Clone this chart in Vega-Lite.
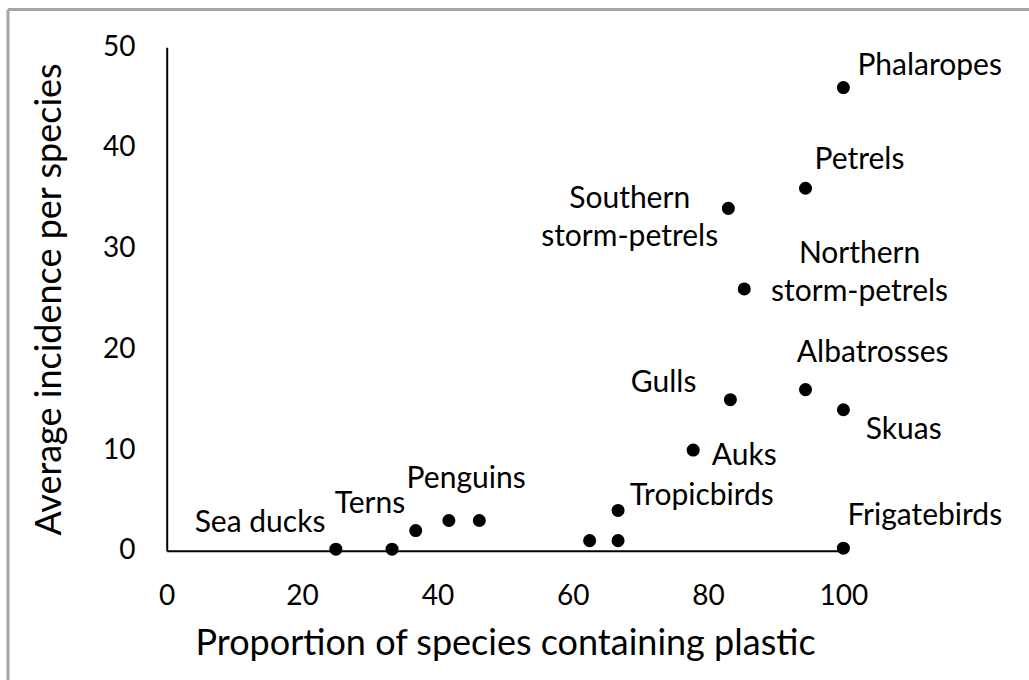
{
  "$schema": "https://vega.github.io/schema/vega-lite/v6.json",
  "autosize": "none",
  "width": 1021.5,
  "height": 671,
  "padding": {"left": 7.5, "top": 9, "right": 0, "bottom": 0},
  "background": "white",
  "config": {
    "view": {"stroke": null},
    "font": "Lato",
    "text": {"font": "Lato", "fontSize": 30, "color": "black"}
  },
  "data": {
    "values": [
      {"x": 25, "y": 0.15, "label": "Sea ducks"},
      {"x": 33.3, "y": 0.15, "label": ""},
      {"x": 36.8, "y": 2, "label": "Terns"},
      {"x": 41.7, "y": 3, "label": "Penguins"},
      {"x": 46.2, "y": 3, "label": ""},
      {"x": 62.5, "y": 1, "label": ""},
      {"x": 66.7, "y": 1, "label": ""},
      {"x": 66.7, "y": 4, "label": "Tropicbirds"},
      {"x": 77.8, "y": 10, "label": "Auks"},
      {"x": 83.3, "y": 15, "label": "Gulls"},
      {"x": 94.4, "y": 16, "label": "Albatrosses"},
      {"x": 100, "y": 14, "label": "Skuas"},
      {"x": 100, "y": 0.25, "label": "Frigatebirds"},
      {"x": 100, "y": 46, "label": "Phalaropes"},
      {"x": 94.4, "y": 36, "label": "Petrels"},
      {"x": 83, "y": 34, "label": "Southern\nstorm-petrels"},
      {"x": 85.35, "y": 26, "label": "Northern\nstorm-petrels"}
    ]
  },
  "layer": [
    {
      "encoding": {
        "x": {
          "field": "x", "type": "quantitative",
          "scale": {"domain": [0, 100], "range": [159.2, 835.9], "nice": false, "zero": false},
          "axis": {
            "orient": "bottom", "offset": -129.3,
            "values": [0, 20, 40, 60, 80, 100],
            "title": "Proportion of species containing plastic",
            "grid": false, "ticks": false, "tickSize": 0,
            "domainColor": "black", "domainWidth": 2,
            "labelFont": "Lato", "labelFontSize": 28, "labelColor": "black",
            "labelPadding": 32, "labelFlush": false, "labelOverlap": false,
            "titleFont": "Lato", "titleFontSize": 36, "titleFontWeight": "normal",
            "titleColor": "black", "titlePadding": 16
          }
        },
        "y": {
          "field": "y", "type": "quantitative",
          "scale": {"domain": [0, 50], "range": [541.7, 38.3], "nice": false, "zero": false},
          "axis": {
            "orient": "left", "offset": -159.2,
            "values": [0, 10, 20, 30, 40, 50],
            "title": "Average incidence per species",
            "grid": false, "ticks": false, "tickSize": 0,
            "domainColor": "black", "domainWidth": 2,
            "labelFont": "Lato", "labelFontSize": 28, "labelColor": "black",
            "labelPadding": 31.7, "labelFlush": false, "labelOverlap": false,
            "titleFont": "Lato", "titleFontSize": 36, "titleFontWeight": "normal",
            "titleColor": "black", "titlePadding": 34
          }
        }
      },
      "layer": [
        {
          "mark": {"type": "point", "shape": "circle", "filled": true, "color": "black", "opacity": 1, "size": 170, "clip": false}
        },
        {
          "transform": [{"filter": "datum.label === 'Phalaropes'"}],
          "mark": {"type": "text", "align": "left", "baseline": "alphabetic", "dx": 14, "dy": -12.7},
          "encoding": {"text": {"field": "label"}}
        },
        {
          "transform": [{"filter": "datum.label === 'Petrels'"}],
          "mark": {"type": "text", "align": "left", "baseline": "alphabetic", "dx": 9, "dy": -19},
          "encoding": {"text": {"field": "label"}}
        },
        {
          "transform": [{"filter": "datum.label === 'Albatrosses'"}],
          "mark": {"type": "text", "align": "left", "baseline": "alphabetic", "dx": -8.7, "dy": -27.3},
          "encoding": {"text": {"field": "label"}}
        },
        {
          "transform": [{"filter": "datum.label === 'Frigatebirds'"}],
          "mark": {"type": "text", "align": "left", "baseline": "alphabetic", "dx": 4, "dy": -23.3},
          "encoding": {"text": {"field": "label"}}
        },
        {
          "transform": [{"filter": "datum.label === 'Tropicbirds'"}],
          "mark": {"type": "text", "align": "left", "baseline": "alphabetic", "dx": 11.6, "dy": -5},
          "encoding": {"text": {"field": "label"}}
        },
        {
          "transform": [{"filter": "datum.label === 'Auks'"}],
          "mark": {"type": "text", "align": "left", "baseline": "alphabetic", "dx": 18.6, "dy": 15},
          "encoding": {"text": {"field": "label"}}
        },
        {
          "transform": [{"filter": "datum.label === 'Skuas'"}],
          "mark": {"type": "text", "align": "left", "baseline": "alphabetic", "dx": 22.4, "dy": 29.3},
          "encoding": {"text": {"field": "label"}}
        },
        {
          "transform": [{"filter": "datum.label === 'Penguins'"}],
          "mark": {"type": "text", "align": "left", "baseline": "alphabetic", "dx": -42.3, "dy": -32.7},
          "encoding": {"text": {"field": "label"}}
        },
        {
          "transform": [{"filter": "datum.label === 'Gulls'"}],
          "mark": {"type": "text", "align": "right", "baseline": "alphabetic", "dx": -34, "dy": -7.7},
          "encoding": {"text": {"field": "label"}}
        },
        {
          "transform": [{"filter": "datum.label === 'Sea ducks' || datum.label === 'Terns'"}],
          "mark": {"type": "text", "align": "right", "baseline": "alphabetic", "dx": -10.5, "dy": -17.5},
          "encoding": {"text": {"field": "label"}}
        },
        {
          "transform": [{"filter": "indexof(datum.label, 'Southern') >= 0"}],
          "mark": {"type": "text", "align": "center", "baseline": "alphabetic", "dx": -98.7, "dy": -0.6, "lineBreak": "\n", "lineHeight": 38},
          "encoding": {"text": {"field": "label"}}
        },
        {
          "transform": [{"filter": "indexof(datum.label, 'Northern') >= 0"}],
          "mark": {"type": "text", "align": "center", "baseline": "alphabetic", "dx": 115.3, "dy": -25.7, "lineBreak": "\n", "lineHeight": 38},
          "encoding": {"text": {"field": "label"}}
        }
      ]
    },
    {
      "mark": {"type": "point", "opacity": 0, "size": 1, "clip": true},
      "encoding": {
        "x": {
          "field": "x", "type": "quantitative",
          "scale": {"domain": [0, 1], "range": [0, 1200], "nice": false, "zero": false},
          "axis": {"orient": "top", "offset": 0, "domainColor": "#a6a6a6", "domainWidth": 3, "labels": false, "ticks": false, "grid": false, "title": null}
        },
        "y": {
          "field": "y", "type": "quantitative",
          "scale": {"domain": [0, 1], "range": [0, 800], "nice": false, "zero": false},
          "axis": {"orient": "left", "offset": 0, "domainColor": "#a6a6a6", "domainWidth": 3, "labels": false, "ticks": false, "grid": false, "title": null}
        }
      }
    }
  ],
  "resolve": {
    "scale": {"x": "independent", "y": "independent"},
    "axis": {"x": "independent", "y": "independent"}
  }
}
